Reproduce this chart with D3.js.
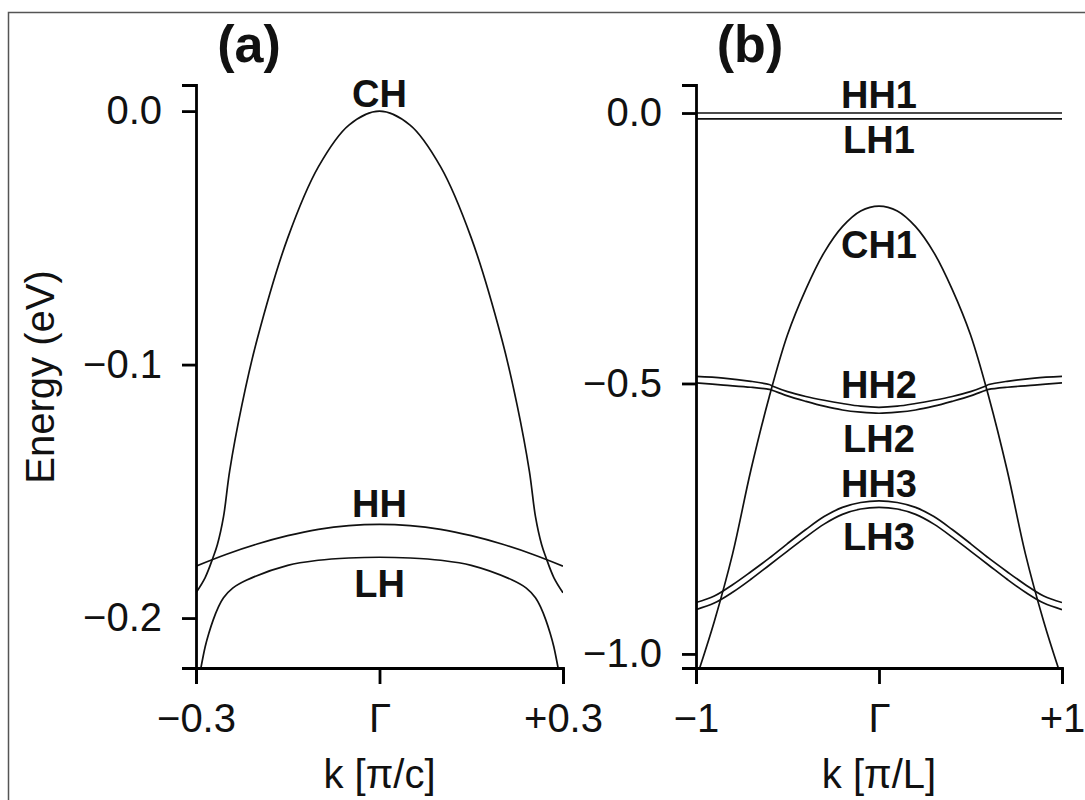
<!DOCTYPE html>
<html><head><meta charset="utf-8">
<script src="https://cdn.jsdelivr.net/npm/d3@7"></script>
<style>
html,body{margin:0;padding:0;background:#fff;}
svg{display:block;font-family:"Liberation Sans",Arial,Helvetica,sans-serif;}
</style></head>
<body>
<svg id="chart" width="1085" height="800"></svg>
<script>
// ---------- Panel (a) data: k in units of pi/c, energy in eV ----------
const kCH_a = [-0.3,-0.285,-0.272,-0.265,-0.255,-0.245,-0.225,-0.2,-0.15,-0.1,-0.05,0,0.05,0.1,0.15,0.2,0.225,0.245,0.255,0.265,0.272,0.285,0.3];
const eCH_a = [-0.190,-0.184,-0.176,-0.171,-0.160,-0.142,-0.116,-0.090,-0.050,-0.022,-0.0055,0,-0.0055,-0.022,-0.050,-0.090,-0.116,-0.142,-0.160,-0.171,-0.176,-0.184,-0.190];
const kHH_a = [-0.3,-0.25,-0.2,-0.15,-0.1,-0.05,0,0.05,0.1,0.15,0.2,0.25,0.3];
const eHH_a = [-0.1795,-0.1748,-0.1708,-0.1675,-0.1650,-0.1635,-0.163,-0.1635,-0.1650,-0.1675,-0.1708,-0.1748,-0.1795];
const kLH_a = [-0.292,-0.285,-0.279,-0.272,-0.264,-0.255,-0.24,-0.217,-0.15,-0.1,-0.05,0,0.05,0.1,0.15,0.217,0.24,0.255,0.264,0.272,0.279,0.285,0.292];
const eLH_a = [-0.2197,-0.2113,-0.206,-0.2008,-0.196,-0.1920,-0.1882,-0.1850,-0.1792,-0.1772,-0.1763,-0.176,-0.1763,-0.1772,-0.1792,-0.1850,-0.1882,-0.1920,-0.196,-0.2008,-0.206,-0.2113,-0.2197];

const aXTicks = [-0.3, 0, 0.3];
const aXLabels = ["\u22120.3", "\u0393", "+0.3"];
const aYTicks = [0, -0.1, -0.2];
const aYLabels = ["0.0", "\u22120.1", "\u22120.2"];
const aXDomain = [-0.3, 0.3];
const aYDomain = [-0.2197, 0.0103];

// ---------- Panel (b) data: k in units of pi/L, energy in eV ----------
const kFlat_b = [-1, 0, 1];
const eHH1_b = [0.000, 0.000, 0.000];
const eLH1_b = [-0.011, -0.011, -0.011];

const kCH1_b = [-0.98,-0.9,-0.8,-0.7,-0.6,-0.5,-0.4,-0.3,-0.2,-0.1,0,0.1,0.2,0.3,0.4,0.5,0.6,0.7,0.8,0.9,0.98];
const eCH1_b = [-1.026,-0.940,-0.815,-0.660,-0.525,-0.410,-0.326,-0.258,-0.210,-0.181,-0.172,-0.181,-0.210,-0.258,-0.326,-0.410,-0.525,-0.660,-0.815,-0.940,-1.026];

const k2_b = [-1,-0.85,-0.7,-0.6,-0.58,-0.5,-0.4,-0.3,-0.2,-0.1,0,0.1,0.2,0.3,0.4,0.5,0.58,0.6,0.7,0.85,1];
const eHH2_b = [-0.487,-0.490,-0.496,-0.502,-0.505,-0.515,-0.524,-0.531,-0.537,-0.542,-0.544,-0.542,-0.537,-0.531,-0.524,-0.515,-0.505,-0.502,-0.496,-0.490,-0.487];
const eLH2_b = [-0.499,-0.503,-0.507,-0.511,-0.513,-0.523,-0.533,-0.542,-0.549,-0.553,-0.555,-0.553,-0.549,-0.542,-0.533,-0.523,-0.513,-0.511,-0.507,-0.503,-0.499];

const k3_b = [-1,-0.9,-0.8,-0.7,-0.6,-0.5,-0.4,-0.3,-0.2,-0.1,0,0.1,0.2,0.3,0.4,0.5,0.6,0.7,0.8,0.9,1];
const eHH3_b = [-0.905,-0.893,-0.872,-0.848,-0.823,-0.796,-0.770,-0.746,-0.729,-0.720,-0.717,-0.720,-0.729,-0.746,-0.770,-0.796,-0.823,-0.848,-0.872,-0.893,-0.905];
const eLH3_b = [-0.918,-0.906,-0.886,-0.862,-0.836,-0.810,-0.784,-0.760,-0.742,-0.732,-0.729,-0.732,-0.742,-0.760,-0.784,-0.810,-0.836,-0.862,-0.886,-0.906,-0.918];

const bXTicks = [-1, 0, 1];
const bXLabels = ["\u22121", "\u0393", "+1"];
const bYTicks = [0, -0.5, -1];
const bYLabels = ["0.0", "\u22120.5", "\u22121.0"];
const bXDomain = [-1, 1];
const bYDomain = [-1.026, 0.0518];

// ---------- drawing ----------
const svg = d3.select("#chart");

// outer frame
svg.append("rect").attr("x", 8.5).attr("y", 12.5).attr("width", 1100).attr("height", 820)
  .attr("fill", "none").attr("stroke", "#555").attr("stroke-width", 1.5);

const TICK_FONT = 40;

function panel(cfg) {
  const x = d3.scaleLinear().domain(cfg.xDomain).range([cfg.left, cfg.right]);
  const y = d3.scaleLinear().domain(cfg.yDomain).range([668, 85]);
  const g = svg.append("g");

  const clipId = "clip" + cfg.id;
  svg.append("clipPath").attr("id", clipId).append("rect")
    .attr("x", cfg.left).attr("y", 85).attr("width", cfg.right - cfg.left).attr("height", 668 - 85);

  const line = d3.line().x(d => x(d[0])).y(d => y(d[1])).curve(d3.curveCatmullRom.alpha(0.5));
  const curves = g.append("g").attr("clip-path", `url(#${clipId})`);
  cfg.series.forEach(s => {
    curves.append("path")
      .datum(s.k.map((kk, i) => [kk, s.e[i]]))
      .attr("d", line)
      .attr("fill", "none").attr("stroke", "#111").attr("stroke-width", 1.7);
  });

  // y axis
  const yAxis = d3.axisLeft(y).tickValues(cfg.yTicks)
    .tickFormat((d, i) => cfg.yLabels[i]).tickSizeOuter(0).tickSize(14).tickPadding(20);
  const ya = g.append("g").attr("transform", `translate(${cfg.left},0)`).call(yAxis);
  // x axis
  const xAxis = d3.axisBottom(x).tickValues(cfg.xTicks)
    .tickFormat((d, i) => cfg.xLabels[i]).tickSizeOuter(0).tickSize(16).tickPadding(20);
  const xa = g.append("g").attr("transform", `translate(0,668)`).call(xAxis);

  [ya, xa].forEach(a => {
    a.select(".domain").attr("stroke", "#000").attr("stroke-width", 2.8);
    a.selectAll(".tick line").attr("stroke", "#000").attr("stroke-width", 2.8);
    a.selectAll(".tick text").attr("fill", "#111").style("font-size", TICK_FONT + "px")
      .style("font-family", '"Liberation Sans",Arial,sans-serif');
  });

  // panel title
  g.append("text").attr("x", cfg.titleX).attr("y", 62).attr("text-anchor", "middle")
    .style("font-size", "52px").style("font-weight", "bold").attr("fill", "#111").text(cfg.title);

  // x title
  g.append("text").attr("x", x(0)).attr("y", 788).attr("text-anchor", "middle")
    .style("font-size", TICK_FONT + "px").attr("fill", "#111").text(cfg.xTitle);

  // band labels
  cfg.labels.forEach(l => {
    g.append("text").attr("x", x(0)).attr("y", l.y).attr("text-anchor", "middle")
      .style("font-size", "38px").style("font-weight", "bold").attr("fill", "#111").text(l.t);
  });
  return {x, y};
}

panel({
  id: "a", left: 196, right: 563, xDomain: aXDomain, yDomain: aYDomain,
  xTicks: aXTicks, xLabels: aXLabels, yTicks: aYTicks, yLabels: aYLabels,
  title: "(a)", titleX: 249, xTitle: "k [\u03c0/c]",
  series: [
    {k: kCH_a, e: eCH_a}, {k: kHH_a, e: eHH_a}, {k: kLH_a, e: eLH_a}
  ],
  labels: [{t: "CH", y: 107}, {t: "HH", y: 517}, {t: "LH", y: 597}]
});

panel({
  id: "b", left: 696, right: 1062, xDomain: bXDomain, yDomain: bYDomain,
  xTicks: bXTicks, xLabels: bXLabels, yTicks: bYTicks, yLabels: bYLabels,
  title: "(b)", titleX: 750, xTitle: "k [\u03c0/L]",
  series: [
    {k: kFlat_b, e: eHH1_b}, {k: kFlat_b, e: eLH1_b},
    {k: kCH1_b, e: eCH1_b},
    {k: k2_b, e: eHH2_b}, {k: k2_b, e: eLH2_b},
    {k: k3_b, e: eHH3_b}, {k: k3_b, e: eLH3_b}
  ],
  labels: [{t: "HH1", y: 108}, {t: "LH1", y: 153}, {t: "CH1", y: 258},
           {t: "HH2", y: 398}, {t: "LH2", y: 452}, {t: "HH3", y: 497}, {t: "LH3", y: 550}]
});

// y title
svg.append("text").attr("transform", "translate(54,377) rotate(-90)").attr("text-anchor", "middle")
  .style("font-size", TICK_FONT + "px").attr("fill", "#111").text("Energy (eV)");
</script>
</body></html>
